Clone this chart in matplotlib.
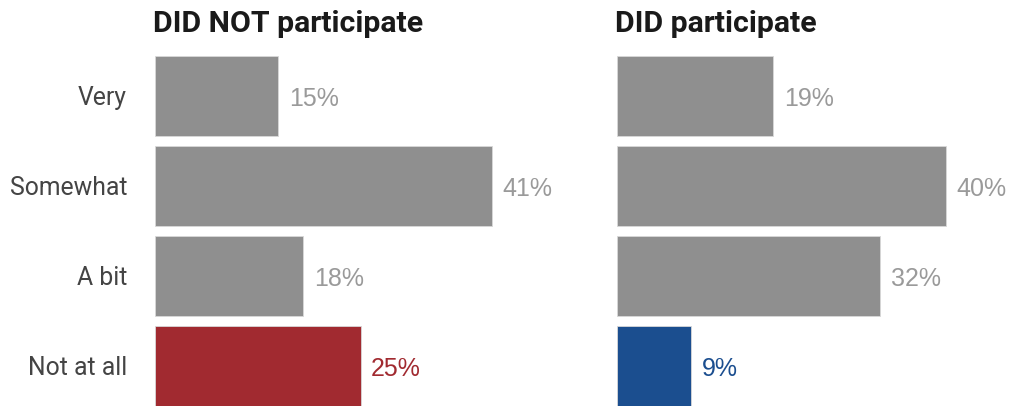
import matplotlib.pyplot as plt

plt.rcParams['font.family'] = ['Roboto', 'DejaVu Sans']

categories = ['Very', 'Somewhat', 'A bit', 'Not at all']
not_part = [15, 41, 18, 25]
did_part = [19, 40, 32, 9]
titles = ['DID NOT participate', 'DID participate']

gray = '#8f8f8f'
colors_left = [gray, gray, gray, '#a12a30']
colors_right = [gray, gray, gray, '#1b4e8f']
txt_left = ['#9a9a9a', '#9a9a9a', '#9a9a9a', '#a12a30']
txt_right = ['#9a9a9a', '#9a9a9a', '#9a9a9a', '#1b4e8f']

W, H = 1014, 408
fig = plt.figure(figsize=(W / 100, H / 100), dpi=100, facecolor='w')

xmax = 45
px_per = 8.22
h = 80 / 90
ylo, yhi = 3 + h / 2, -h / 2
top_px, bot_px = 56, 406


def make_ax(x0):
    return fig.add_axes([x0 / W, (H - bot_px) / H, xmax * px_per / W, (bot_px - top_px) / H])


for i, (x0, vals, cols, tcols) in enumerate([
        (155, not_part, colors_left, txt_left),
        (617, did_part, colors_right, txt_right)]):
    ax = make_ax(x0)
    ypos = range(len(categories))
    ax.barh(ypos, vals, height=h, color=cols, edgecolor='#d8d8d8', linewidth=0.6)
    ax.set_xlim(0, xmax)
    ax.set_ylim(ylo, yhi)
    for y, v, c in zip(ypos, vals, tcols):
        ax.text(v + 1.3, y + 0.11, f'{v}%', va='baseline', ha='left', fontsize=18,
                color=c, family=['Liberation Sans', 'DejaVu Sans'])
    ax.axis('off')
    ax.text(-0.3, -0.71, titles[i], fontsize=21.8, fontweight='bold', color='#1a1a1a',
            ha='left', va='baseline')
    if i == 0:
        for y, lab in zip(ypos, categories):
            ax.text(-3.4, y + 0.1, lab, ha='right', va='baseline', fontsize=17.8, color='#444444')

fig.savefig('out.png', dpi=100, facecolor='w')
